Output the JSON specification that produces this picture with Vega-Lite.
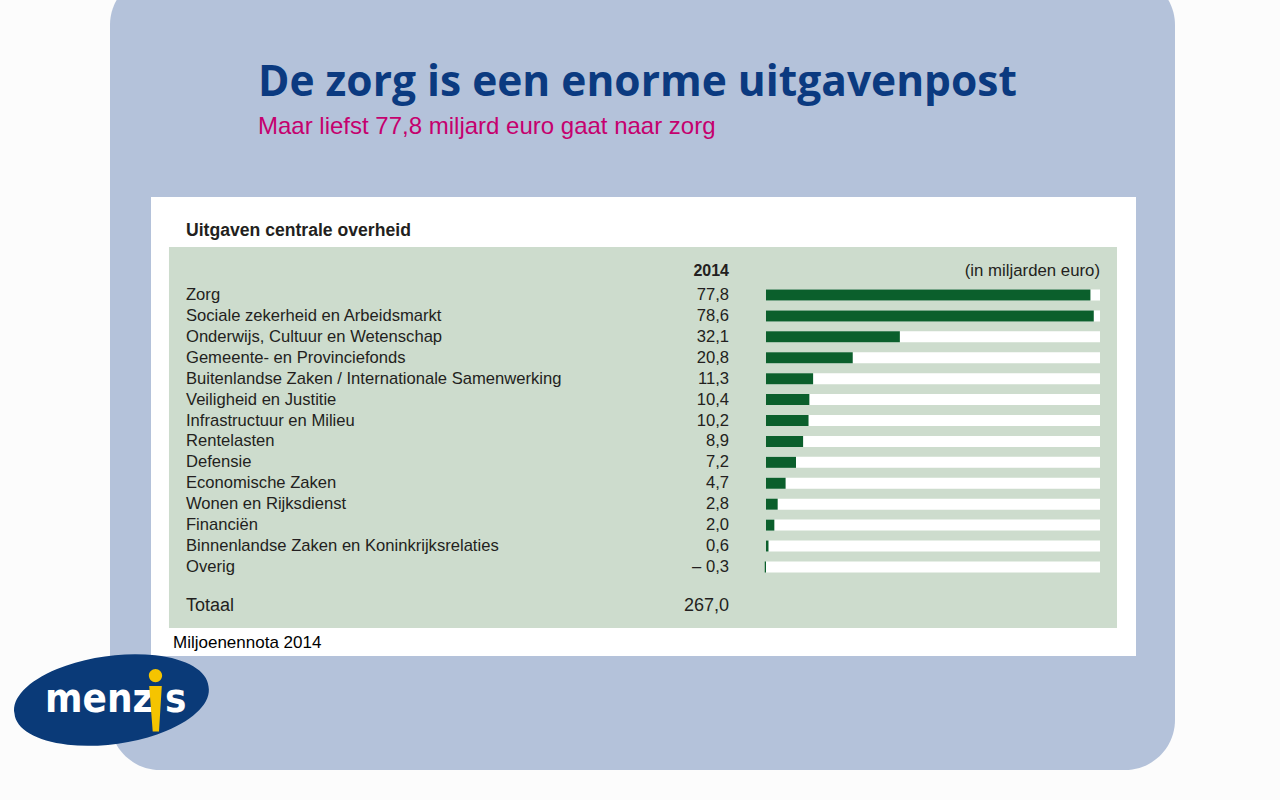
{
  "$schema": "https://vega.github.io/schema/vega-lite/v6.json",
  "width": 1280,
  "height": 800,
  "autosize": {"type": "fit", "contains": "padding"},
  "padding": 0,
  "background": "#fcfcfc",
  "config": {
    "view": {"stroke": null},
    "locale": {"number": {"decimal": ",", "thousands": ".", "grouping": [3], "currency": ["€ ", ""], "minus": "– "}}
  },
  "datasets": {
    "posten": [
      {"post": "Zorg", "bedrag": 77.8},
      {"post": "Sociale zekerheid en Arbeidsmarkt", "bedrag": 78.6},
      {"post": "Onderwijs, Cultuur en Wetenschap", "bedrag": 32.1},
      {"post": "Gemeente- en Provinciefonds", "bedrag": 20.8},
      {"post": "Buitenlandse Zaken / Internationale Samenwerking", "bedrag": 11.3},
      {"post": "Veiligheid en Justitie", "bedrag": 10.4},
      {"post": "Infrastructuur en Milieu", "bedrag": 10.2},
      {"post": "Rentelasten", "bedrag": 8.9},
      {"post": "Defensie", "bedrag": 7.2},
      {"post": "Economische Zaken", "bedrag": 4.7},
      {"post": "Wonen en Rijksdienst", "bedrag": 2.8},
      {"post": "Financiën", "bedrag": 2.0},
      {"post": "Binnenlandse Zaken en Koninkrijksrelaties", "bedrag": 0.6},
      {"post": "Overig", "bedrag": -0.3}
    ],
    "vlakken": [
      {"vlak": "dia", "links": -157.31, "rechts": 98.08, "boven": -14.3, "onder": 23.71},
      {"vlak": "kader", "links": -147.48, "rechts": 88.73, "boven": -3.685, "onder": 18.256},
      {"vlak": "tabel", "links": -143.17, "rechts": 84.17, "boven": -1.294, "onder": 16.918}
    ],
    "een": [{}]
  },
  "data": {"name": "posten"},
  "transform": [{"window": [{"op": "row_number", "as": "rij"}]}],
  "layer": [
    {
      "data": {"name": "vlakken"},
      "transform": [{"filter": "datum.vlak === 'dia'"}],
      "mark": {"type": "rect", "fill": "#b4c2da", "cornerRadius": 50, "clip": true},
      "encoding": {
        "x": {"field": "links", "type": "quantitative", "axis": null, "scale": {"domain": [-183.69, 123.26], "nice": false, "zero": false, "padding": 0}},
        "x2": {"field": "rechts"},
        "y": {"field": "boven", "type": "quantitative", "axis": null, "scale": {"domain": [-13.1, 25.14], "nice": false, "zero": false, "reverse": true, "padding": 0}},
        "y2": {"field": "onder"}
      }
    },
    {
      "data": {"name": "vlakken"},
      "transform": [{"filter": "datum.vlak === 'kader'"}],
      "mark": {"type": "rect", "fill": "#ffffff"},
      "encoding": {
        "x": {"field": "links", "type": "quantitative"},
        "x2": {"field": "rechts"},
        "y": {"field": "boven", "type": "quantitative"},
        "y2": {"field": "onder"}
      }
    },
    {
      "data": {"name": "vlakken"},
      "transform": [{"filter": "datum.vlak === 'tabel'"}],
      "mark": {"type": "rect", "fill": "#cddccd"},
      "encoding": {
        "x": {"field": "links", "type": "quantitative"},
        "x2": {"field": "rechts"},
        "y": {"field": "boven", "type": "quantitative"},
        "y2": {"field": "onder"}
      }
    },
    {
      "mark": {"type": "bar", "orient": "horizontal", "fill": "#ffffff", "size": 11},
      "encoding": {
        "x": {"datum": 80.1, "type": "quantitative"},
        "y": {"field": "rij", "type": "quantitative"}
      }
    },
    {
      "mark": {"type": "bar", "orient": "horizontal", "fill": "#0b5f2c", "size": 11},
      "encoding": {
        "x": {"field": "bedrag", "type": "quantitative", "stack": null},
        "y": {"field": "rij", "type": "quantitative"}
      }
    },
    {
      "mark": {"type": "text", "align": "left", "baseline": "middle", "font": "Liberation Sans", "fontSize": 16.6, "fill": "#231f20"},
      "encoding": {
        "x": {"datum": -139.09, "type": "quantitative"},
        "y": {"field": "rij", "type": "quantitative"},
        "text": {"field": "post"}
      }
    },
    {
      "mark": {"type": "text", "align": "right", "baseline": "middle", "font": "Liberation Sans", "fontSize": 16.6, "fill": "#231f20"},
      "encoding": {
        "x": {"datum": -8.87, "type": "quantitative"},
        "y": {"field": "rij", "type": "quantitative"},
        "text": {"field": "bedrag", "type": "quantitative", "format": ".1f"}
      }
    },
    {
      "data": {"name": "een"},
      "mark": {"type": "text", "align": "right", "baseline": "middle", "font": "Liberation Sans", "fontSize": 16, "fontWeight": "bold", "fill": "#231f20"},
      "encoding": {
        "x": {"datum": -8.87, "type": "quantitative"},
        "y": {"datum": -0.147, "type": "quantitative"},
        "text": {"value": "2014"}
      }
    },
    {
      "data": {"name": "een"},
      "mark": {"type": "text", "align": "right", "baseline": "middle", "font": "Liberation Sans", "fontSize": 16.8, "fill": "#231f20"},
      "encoding": {
        "x": {"datum": 80.1, "type": "quantitative"},
        "y": {"datum": -0.147, "type": "quantitative"},
        "text": {"value": "(in miljarden euro)"}
      }
    },
    {
      "data": {"name": "een"},
      "mark": {"type": "text", "align": "left", "baseline": "middle", "font": "Liberation Sans", "fontSize": 18, "fill": "#231f20"},
      "encoding": {
        "x": {"datum": -139.09, "type": "quantitative"},
        "y": {"datum": 15.87, "type": "quantitative"},
        "text": {"value": "Totaal"}
      }
    },
    {
      "data": {"name": "een"},
      "mark": {"type": "text", "align": "right", "baseline": "middle", "font": "Liberation Sans", "fontSize": 18, "fill": "#231f20"},
      "encoding": {
        "x": {"datum": -8.87, "type": "quantitative"},
        "y": {"datum": 15.87, "type": "quantitative"},
        "text": {"value": "267,0"}
      }
    },
    {
      "data": {"name": "een"},
      "mark": {"type": "text", "align": "left", "baseline": "middle", "font": "Liberation Sans", "fontSize": 17.6, "fontWeight": "bold", "fill": "#231f20"},
      "encoding": {
        "x": {"datum": -139.09, "type": "quantitative"},
        "y": {"datum": -2.06, "type": "quantitative"},
        "text": {"value": "Uitgaven centrale overheid"}
      }
    },
    {
      "data": {"name": "een"},
      "mark": {"type": "text", "align": "left", "baseline": "middle", "font": "Liberation Sans", "fontSize": 17, "fill": "#000000"},
      "encoding": {
        "x": {"datum": -142.2, "type": "quantitative"},
        "y": {"datum": 17.635, "type": "quantitative"},
        "text": {"value": "Miljoenennota 2014"}
      }
    },
    {
      "data": {"name": "een"},
      "mark": {"type": "text", "align": "left", "baseline": "middle", "font": "Open Sans", "fontSize": 42.5, "fontWeight": "bold", "fill": "#0b3a80"},
      "encoding": {
        "x": {"datum": -121.82, "type": "quantitative"},
        "y": {"datum": -9.134, "type": "quantitative"},
        "text": {"value": "De zorg is een enorme uitgavenpost"}
      }
    },
    {
      "data": {"name": "een"},
      "mark": {"type": "text", "align": "left", "baseline": "middle", "font": "Liberation Sans", "fontSize": 24, "fill": "#c5006e"},
      "encoding": {
        "x": {"datum": -121.82, "type": "quantitative"},
        "y": {"datum": -7.031, "type": "quantitative"},
        "text": {"value": "Maar liefst 77,8 miljard euro gaat naar zorg"}
      }
    },
    {
      "data": {"name": "een"},
      "mark": {"type": "point", "shape": "M -0.990 0.139 A 1 0.44 -8 1 1 0.990 -0.139 A 1 0.44 -8 1 1 -0.990 0.139 Z", "size": 38416, "filled": true, "fill": "#0a3a78", "opacity": 1, "strokeWidth": 0},
      "encoding": {
        "x": {"datum": -156.95, "type": "quantitative"},
        "y": {"datum": 20.36, "type": "quantitative"}
      }
    },
    {
      "data": {"name": "een"},
      "mark": {"type": "text", "align": "left", "baseline": "alphabetic", "font": "DejaVu Sans Condensed, DejaVu Sans", "fontSize": 40, "fontWeight": "bold", "fill": "#ffffff"},
      "encoding": {
        "x": {"datum": -172.9, "type": "quantitative"},
        "y": {"datum": 20.933, "type": "quantitative"},
        "text": {"value": "menz"}
      }
    },
    {
      "data": {"name": "een"},
      "mark": {"type": "text", "align": "left", "baseline": "alphabetic", "font": "DejaVu Sans Condensed, DejaVu Sans", "fontSize": 40, "fontWeight": "bold", "fill": "#ffffff"},
      "encoding": {
        "x": {"datum": -144.12, "type": "quantitative"},
        "y": {"datum": 20.933, "type": "quantitative"},
        "text": {"value": "s"}
      }
    },
    {
      "data": {"name": "een"},
      "mark": {"type": "point", "shape": "M -0.18 -0.3 L 0.18 -0.3 L 0.1 1 L -0.08 1 Z M 0.19 -0.6 A 0.19 0.19 0 1 1 -0.19 -0.6 A 0.19 0.19 0 1 1 0.19 -0.6 Z", "size": 4900, "filled": true, "fill": "#f5c400", "opacity": 1, "strokeWidth": 0},
      "encoding": {
        "x": {"datum": -146.4, "type": "quantitative"},
        "y": {"datum": 20.194, "type": "quantitative"}
      }
    }
  ]
}
